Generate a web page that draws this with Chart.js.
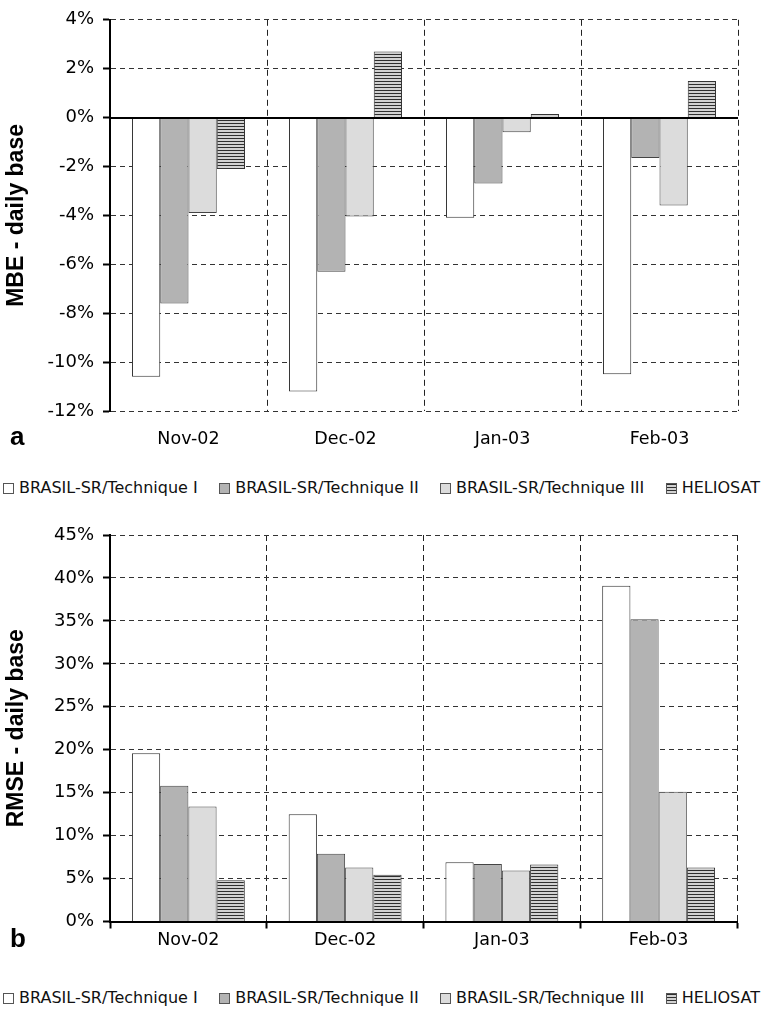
<!DOCTYPE html>
<html>
<head>
<meta charset="utf-8">
<script src="https://cdn.jsdelivr.net/npm/chart.js@4.4.1/dist/chart.umd.min.js"></script>
<style>
  html, body { margin: 0; padding: 0; background: #fff; }
  body { width: 762px; height: 1012px; position: relative; overflow: hidden; font-family: "DejaVu Sans", sans-serif; }
  .panel { position: absolute; left: 0; width: 762px; }
  .tag { position: absolute; left: 10px; font: bold 26px "Liberation Sans", Arial, sans-serif; color: #000; line-height: 30px; }
  .legend { position: absolute; left: 3px; right: 2px; display: flex; justify-content: space-between;
            font-size: 16px; color: #111; white-space: nowrap; line-height: 20px; }
  .legend .item { display: flex; align-items: center; }
  .legend .sw { display: inline-block; width: 9px; height: 9px; border: 1px solid #555; margin-right: 5px; box-sizing: content-box; }
</style>
</head>
<body>
<div class="panel" style="top:0"><canvas id="chartA" width="762" height="460"></canvas></div>
<div class="tag" style="top:421px">a</div>
<div class="legend" id="legendA" style="top:478px"></div>

<div class="panel" style="top:510px"><canvas id="chartB" width="762" height="460"></canvas></div>
<div class="tag" style="top:923px">b</div>
<div class="legend" id="legendB" style="top:988px"></div>

<script>
// Months and series
const months = ['Nov-02', 'Dec-02', 'Jan-03', 'Feb-03'];
const seriesNames = ['BRASIL-SR/Technique I', 'BRASIL-SR/Technique II', 'BRASIL-SR/Technique III', 'HELIOSAT'];

// MBE - daily base (%)
const mbeTechI   = [-10.6, -11.2, -4.1, -10.5];
const mbeTechII  = [-7.6, -6.3, -2.7, -1.65];
const mbeTechIII = [-3.9, -4.05, -0.6, -3.6];
const mbeHelio   = [-2.1, 2.7, 0.15, 1.5];

// RMSE - daily base (%)
const rmseTechI   = [19.6, 12.5, 6.9, 39.1];
const rmseTechII  = [15.8, 7.9, 6.7, 35.2];
const rmseTechIII = [13.4, 6.3, 5.95, 15.1];
const rmseHelio   = [4.8, 5.45, 6.65, 6.3];

// Value axis ranges
const mbeAxis  = { min: -12, max: 4, step: 2 };
const rmseAxis = { min: 0, max: 45, step: 5 };

// Horizontal-stripe fill for HELIOSAT
function stripePattern(ctx) {
  const c = document.createElement('canvas');
  c.width = 4; c.height = 3;
  const g = c.getContext('2d');
  g.fillStyle = '#d2d2d2'; g.fillRect(0, 0, 4, 3);
  g.fillStyle = '#2f2f2f'; g.fillRect(0, 0, 4, 1);
  return ctx.createPattern(c, 'repeat');
}

const cssFills = ['#ffffff', '#b3b3b3', '#dcdcdc', 'repeating-linear-gradient(#2f2f2f 0 1px, #d2d2d2 1px 3px)'];
const borderColors = ['#333', '#444', '#444', '#333'];

// Solid zero line drawn over the bars
const zeroLine = {
  id: 'zeroLine',
  afterDatasetsDraw(chart) {
    const ys = chart.scales.y;
    if (ys.min >= 0) return;
    const py = Math.round(ys.getPixelForValue(0));
    const ctx = chart.ctx;
    ctx.save();
    ctx.strokeStyle = '#000';
    ctx.lineWidth = 2;
    ctx.beginPath();
    ctx.moveTo(chart.chartArea.left, py);
    ctx.lineTo(chart.chartArea.right, py);
    ctx.stroke();
    ctx.restore();
  }
};

function buildChart(canvasId, seriesValues, axis, titleText, cfg) {
  const canvas = document.getElementById(canvasId);
  const ctx = canvas.getContext('2d');
  const fills = ['#ffffff', '#b3b3b3', '#dcdcdc', stripePattern(ctx)];
  return new Chart(ctx, {
    type: 'bar',
    data: {
      labels: months,
      datasets: seriesValues.map((vals, i) => ({
        label: seriesNames[i],
        data: vals,
        backgroundColor: fills[i],
        borderColor: borderColors[i],
        borderWidth: 1,
        categoryPercentage: 0.72,
        barPercentage: 1
      }))
    },
    options: {
      responsive: false,
      animation: false,
      events: [],
      layout: { padding: { top: cfg.top, right: cfg.right, left: 0, bottom: 0 } },
      plugins: { legend: { display: false }, tooltip: { enabled: false } },
      scales: {
        x: {
          grid: { offset: true, color: '#222', lineWidth: 1, drawTicks: cfg.xTicks, tickLength: 7,
                  tickColor: '#000', tickWidth: 2, tickBorderDash: [] },
          border: { display: cfg.xBorder, color: '#000', width: 2, dash: [6, 4] },
          ticks: { color: '#000', padding: cfg.xPad, font: { family: 'DejaVu Sans', size: 17.5 } },
          afterFit: s => { s.height = cfg.xHeight; }
        },
        y: {
          min: axis.min, max: axis.max,
          ticks: { stepSize: axis.step, callback: v => v + '%', padding: 9, color: '#000',
                   font: { family: 'DejaVu Sans', size: 18 } },
          grid: { color: '#333', lineWidth: 1, tickLength: 7, tickColor: '#000', tickWidth: 2, tickBorderDash: [] },
          border: { color: '#000', width: 2, dash: [5, 4] },
          title: { display: true, text: titleText, color: '#000',
                   font: { family: 'Liberation Sans', weight: 'bold', size: 23 },
                   padding: { top: 3, bottom: 0 } },
          afterFit: s => { s.width = 110; }
        }
      }
    },
    plugins: cfg.zero ? [zeroLine] : []
  });
}

buildChart('chartA', [mbeTechI, mbeTechII, mbeTechIII, mbeHelio], mbeAxis, 'MBE - daily base',
  { top: 19, right: 24, xTicks: false, xBorder: false, xPad: 18, xHeight: 49, zero: true });

buildChart('chartB', [rmseTechI, rmseTechII, rmseTechIII, rmseHelio], rmseAxis, 'RMSE - daily base',
  { top: 25, right: 25, xTicks: true, xBorder: true, xPad: 1, xHeight: 48.5, zero: false });

// Legends under each panel
function buildLegend(id) {
  const el = document.getElementById(id);
  seriesNames.forEach((name, i) => {
    const item = document.createElement('span');
    item.className = 'item';
    const sw = document.createElement('span');
    sw.className = 'sw';
    sw.style.background = cssFills[i];
    item.appendChild(sw);
    item.appendChild(document.createTextNode(name));
    el.appendChild(item);
  });
}
buildLegend('legendA');
buildLegend('legendB');
</script>
</body>
</html>
